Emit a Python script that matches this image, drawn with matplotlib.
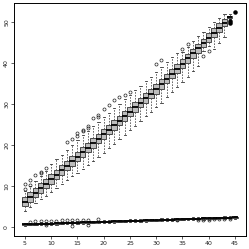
import numpy as np
import matplotlib
matplotlib.use("Agg")
import matplotlib.pyplot as plt

# upper group: one box per integer x
up_x = list(range(5, 45))
up_med = [6.1, 7.2, 8.3, 9.4, 10.5, 11.6, 12.7, 13.8, 14.9, 16.0, 17.1, 18.2, 19.3, 20.4, 21.5,
          22.6, 23.7, 24.8, 25.9, 27.0, 28.1, 29.2, 30.3, 31.4, 32.5, 33.6, 34.8, 36.1, 37.3, 38.6,
          39.8, 41.1, 42.3, 43.6, 44.8, 46.1, 47.3, 48.6, 49.8, 51.2]
up_q1 = [5.0, 6.1, 7.3, 8.3, 9.4, 10.5, 11.6, 12.7, 13.8, 14.9, 16.0, 17.0, 18.2, 19.3, 20.4,
         21.4, 22.6, 23.7, 24.8, 25.9, 27.0, 28.1, 29.2, 30.3, 31.4, 32.5, 33.7, 35.0, 36.2, 37.5,
         38.7, 40.0, 41.2, 42.5, 43.8, 45.1, 46.3, 47.6, 48.9, 50.9]
up_q3 = [7.3, 8.4, 9.5, 10.6, 11.7, 12.8, 13.9, 15.0, 16.1, 17.2, 18.3, 19.4, 20.5, 21.6, 22.7,
         23.9, 24.9, 26.0, 27.1, 28.2, 29.3, 30.4, 31.5, 32.6, 33.7, 34.8, 36.0, 37.3, 38.5, 39.8,
         41.0, 42.2, 43.4, 44.7, 45.9, 47.2, 48.4, 49.6, 50.8, 51.5]
up_lo = [3.9, 4.9, 5.8, 6.7, 7.6, 8.5, 9.5, 10.4, 11.3, 12.3, 13.2, 14.1, 15.1, 16.0, 17.0,
         18.0, 19.1, 20.2, 21.3, 22.4, 23.5, 24.6, 25.7, 26.9, 28.0, 29.1, 30.3, 31.6, 32.8, 34.1,
         35.3, 36.6, 37.9, 39.2, 42.8, 44.0, 43.3, 44.8, 46.4, 50.6]
up_hi = [8.8, 9.9, 11.2, 12.4, 13.6, 15.2, 16.4, 17.6, 18.8, 20.0, 21.2, 22.3, 23.4, 24.5, 25.6,
         26.7, 27.8, 28.9, 30.0, 31.1, 32.2, 33.3, 34.4, 35.5, 36.6, 37.7, 38.9, 40.1, 41.3, 42.5,
         42.6, 43.8, 45.3, 46.5, 47.6, 48.8, 49.9, 51.0, 51.9, 51.8]
up_out = {5: [9.2, 10.4], 6: [10.2, 11.4], 7: [12.6], 8: [13.1, 13.3], 9: [14.4],
          13: [20.7], 14: [21.3], 15: [22.1, 22.9], 16: [23.3, 23.5], 17: [24.2, 24.5],
          18: [26.4], 19: [26.7, 27.3], 20: [28.6], 21: [29.7], 22: [30.9], 23: [31.6],
          24: [32.2], 25: [32.8], 30: [39.8], 31: [40.7], 35: [43.3], 36: [44.5],
          39: [41.6], 40: [43.0]}
# solid points at the top end
top_x = [44, 44, 45]
top_y = [49.7, 50.1, 52.3]

# lower group
lo_x = list(range(5, 46))
lo_med = [0.55, 0.59, 0.63, 0.68, 0.72, 0.76, 0.80, 0.85, 0.89, 0.93, 0.97, 1.02, 1.06, 1.10,
          1.14, 1.19, 1.23, 1.27, 1.31, 1.36, 1.40, 1.44, 1.48, 1.53, 1.57, 1.61, 1.65, 1.70,
          1.74, 1.78, 1.82, 1.87, 1.91, 1.95, 1.99, 2.04, 2.08, 2.12, 2.16, 2.21, 2.25]
lo_out = {6: [1.2], 7: [1.3], 8: [1.3], 9: [0.3, 1.4], 10: [1.4], 11: [1.4], 12: [1.5],
          13: [1.5], 14: [0.2, 1.5], 15: [1.5], 16: [1.6], 17: [0.4, 1.6], 19: [1.8],
          34: [1.5], 38: [1.5], 39: [1.6], 40: [1.7], 41: [1.8], 42: [1.8], 43: [1.9], 44: [1.9]}

fig = plt.figure(figsize=(2.49, 2.49), dpi=100)
ax = fig.add_axes([0.056, 0.052, 0.932, 0.936])

box_style = dict(widths=1.05, patch_artist=True, manage_ticks=False, capwidths=0.45,
                 boxprops=dict(facecolor="#bdbdbd", edgecolor="#333333", linewidth=0.6),
                 medianprops=dict(color="black", linewidth=1.3),
                 whiskerprops=dict(color="#555555", linewidth=0.6, linestyle=(0, (2, 1.5))),
                 capprops=dict(color="#333333", linewidth=0.6),
                 flierprops=dict(marker="o", markersize=2.2, markerfacecolor="none",
                                 markeredgecolor="#222222", markeredgewidth=0.5))

stats = []
for i, x in enumerate(up_x):
    stats.append(dict(med=up_med[i], q1=up_q1[i], q3=up_q3[i], whislo=up_lo[i],
                      whishi=up_hi[i], fliers=up_out.get(x, [])))
ax.bxp(stats, positions=up_x, **box_style)

stats2 = []
for i, x in enumerate(lo_x):
    m = lo_med[i]
    stats2.append(dict(med=m, q1=m - 0.12, q3=m + 0.12, whislo=m - 0.3,
                       whishi=m + 0.35, fliers=lo_out.get(x, [])))
ax.bxp(stats2, positions=lo_x, **box_style)

ax.scatter(top_x, top_y, s=5, color="black", zorder=5)

ax.set_xlim(2.9, 47.1)
ax.set_ylim(-2.3, 54.6)
ax.set_xticks([5, 10, 15, 20, 25, 30, 35, 40, 45])
ax.set_yticks([0, 10, 20, 30, 40, 50])
ax.tick_params(axis="both", labelsize=4.5, length=2, width=0.5, pad=1.5, colors="#222222")
ax.tick_params(axis="y", labelrotation=90)
for lab in ax.get_yticklabels():
    lab.set_va("center")
for s in ax.spines.values():
    s.set_linewidth(0.7)

fig.savefig("out.png", dpi=100)
